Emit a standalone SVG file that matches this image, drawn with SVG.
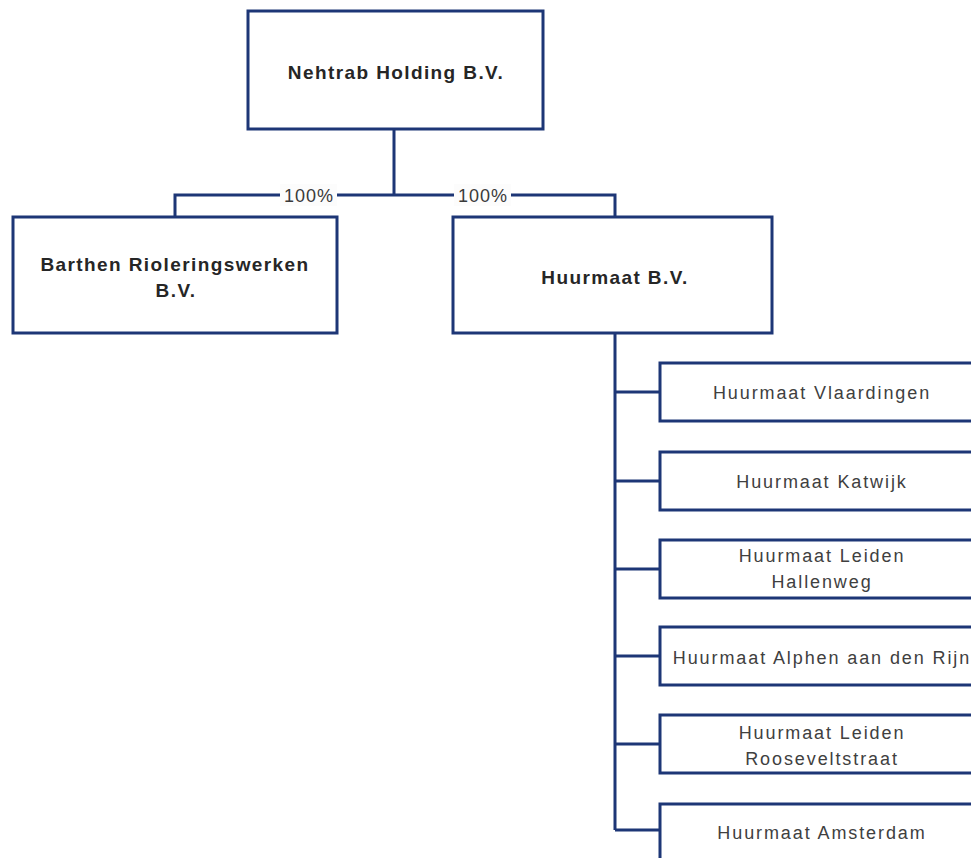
<svg xmlns="http://www.w3.org/2000/svg" width="971" height="858" viewBox="0 0 971 858">
<style>
.box{fill:#fff;stroke:#1d3676;stroke-width:3}
.ln{fill:none;stroke:#1d3676;stroke-width:3}
.b{font-family:"Liberation Sans",Arial,sans-serif;font-weight:bold;font-size:19px;fill:#262626;text-anchor:middle;letter-spacing:1.4px}
.n{font-family:"Liberation Sans",Arial,sans-serif;font-size:18px;fill:#404040;text-anchor:middle;letter-spacing:1.9px}
.p{font-family:"Liberation Sans",Arial,sans-serif;font-size:18px;fill:#3a3a3a;text-anchor:middle;letter-spacing:1px}
</style>
<rect width="971" height="858" fill="#fff"/>
<g id="connectors">
<path class="ln" d="M394,129 V195 M175,217 V195 H615 V217"/>
<path class="ln" d="M615,333 V830 M615,392 H660 M615,481 H660 M615,569 H660 M615,656 H660 M615,744 H660 M615,830 H660"/>
<rect x="280" y="184" width="57" height="22" fill="#fcfcfc"/>
<text class="p" x="309" y="202">100%</text>
<rect x="454" y="184" width="57" height="22" fill="#fcfcfc"/>
<text class="p" x="483" y="202">100%</text>
</g>
<g id="holding"><rect class="box" x="248" y="11" width="295" height="118"/><text class="b" x="396" y="79">Nehtrab Holding B.V.</text></g>
<g id="barthen"><rect class="box" x="13" y="217" width="324" height="116"/><text class="b" x="175" y="271">Barthen Rioleringswerken</text><text class="b" x="176" y="297">B.V.</text></g>
<g id="huurmaat"><rect class="box" x="453" y="217" width="319" height="116"/><text class="b" x="615" y="284">Huurmaat B.V.</text></g>
<g id="vlaardingen"><rect class="box" x="660" y="363" width="325" height="58"/><text class="n" x="822" y="399">Huurmaat Vlaardingen</text></g>
<g id="katwijk"><rect class="box" x="660" y="452" width="325" height="58"/><text class="n" x="822" y="488">Huurmaat Katwijk</text></g>
<g id="leiden-hallenweg"><rect class="box" x="660" y="540" width="325" height="58"/><text class="n" x="822" y="562">Huurmaat Leiden</text><text class="n" x="822" y="588">Hallenweg</text></g>
<g id="alphen"><rect class="box" x="660" y="627" width="325" height="58"/><text class="n" x="822" y="664">Huurmaat Alphen aan den Rijn</text></g>
<g id="leiden-roosevelt"><rect class="box" x="660" y="715" width="325" height="58"/><text class="n" x="822" y="739">Huurmaat Leiden</text><text class="n" x="822" y="765">Rooseveltstraat</text></g>
<g id="amsterdam"><rect class="box" x="660" y="804" width="325" height="80"/><text class="n" x="822" y="839">Huurmaat Amsterdam</text></g>
</svg>
